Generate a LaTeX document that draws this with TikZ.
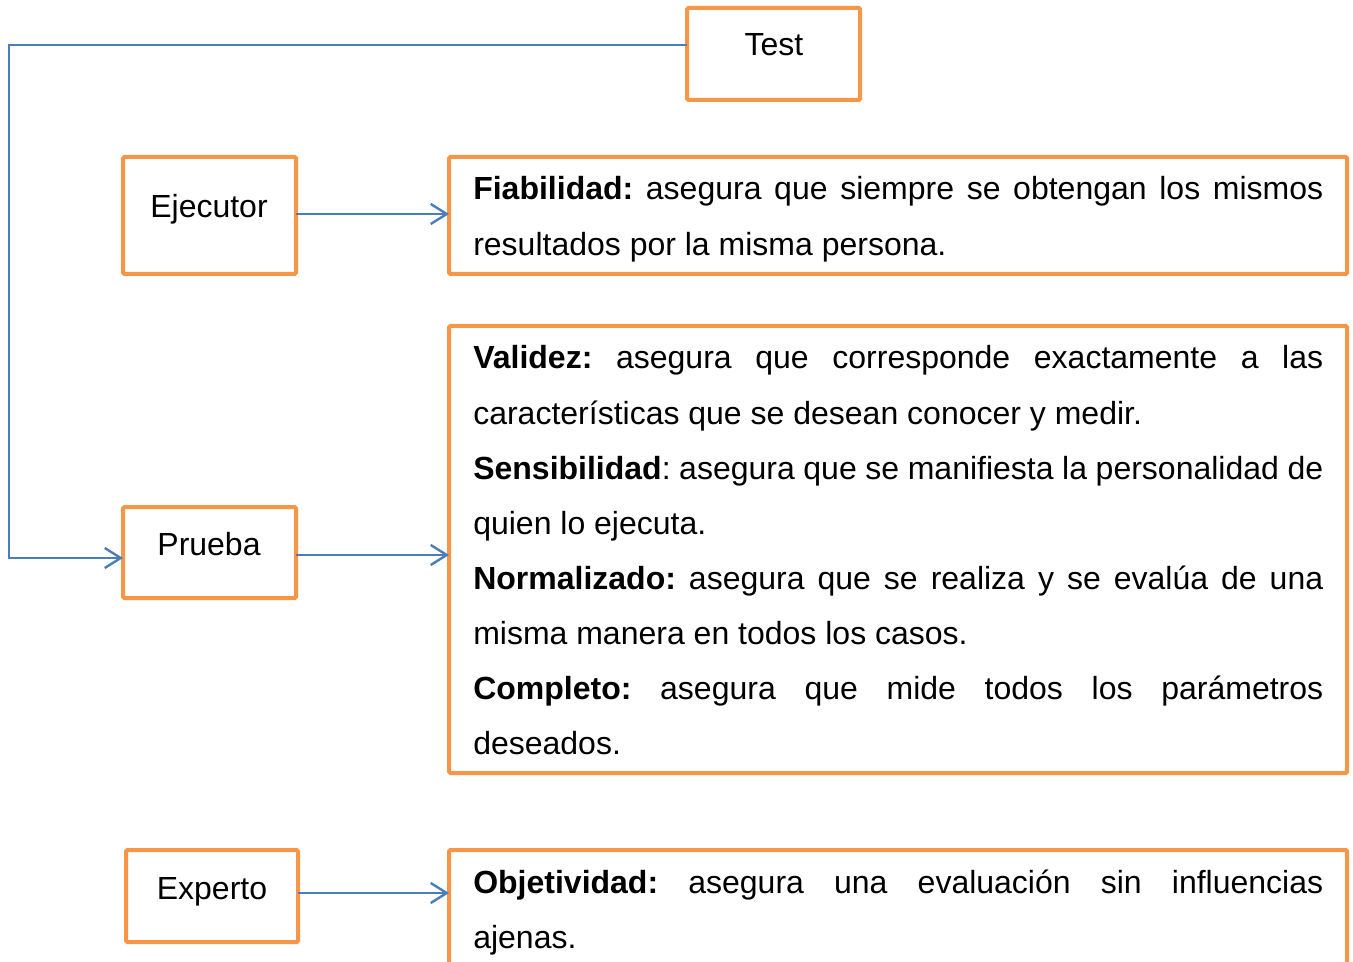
\documentclass[tikz,border=0pt]{standalone}
\usepackage{fontspec}
\setmainfont{Liberation Sans}
\usetikzlibrary{arrows.meta}
\definecolor{boxorange}{HTML}{F79646}
\definecolor{lineblue}{HTML}{4A7EBB}
\hyphenpenalty=10000
\exhyphenpenalty=10000
\frenchspacing
\begin{document}
\begin{tikzpicture}[x=0.75pt,y=-0.75pt,
  box/.style={draw=boxorange,line width=3pt,rounded corners=1pt,inner sep=0pt,outer sep=0pt,anchor=north west},
  lbl/.style={font=\fontsize{24pt}{28pt}\selectfont,inner sep=0pt,anchor=base},
  txt/.style={font=\fontsize{24pt}{41.3pt}\selectfont\frenchspacing,inner sep=0pt,anchor=base west,text width=637.5pt,align=justify},
  conn/.style={draw=lineblue,line width=1.8pt,line join=miter,-{Straight Barb[length=12pt,width=15pt,line width=1.8pt]}}]
\clip (0,0) rectangle (1353,962);
% boxes
\node[box,minimum width={173*0.75pt},minimum height={92*0.75pt}] (test) at (687,8) {};
\node[box,minimum width={173*0.75pt},minimum height={117*0.75pt}] (eje) at (123,157) {};
\node[box,minimum width={898*0.75pt},minimum height={117*0.75pt}] (fia) at (449,157) {};
\node[box,minimum width={173*0.75pt},minimum height={91*0.75pt}] (pru) at (123,507) {};
\node[box,minimum width={898*0.75pt},minimum height={447*0.75pt}] (big) at (449,326) {};
\node[box,minimum width={172*0.75pt},minimum height={92*0.75pt}] (exp) at (126,850) {};
\node[box,minimum width={898*0.75pt},minimum height={140*0.75pt}] (obj) at (449,850) {};
% labels
\node[lbl] (testl) at (774,56) {Test};
\node[lbl] (ejel) at (209,218) {Ejecutor};
\node[lbl] (prul) at (209,555) {Prueba};
\node[lbl] (expl) at (212,899) {Experto};
% texts
\node[txt] (fiat) at (473,200) {\textbf{Fiabilidad:} asegura que siempre se obtengan los mismos\linebreak resultados por la misma persona.};
\node[txt] (bigt) at (473,369) {\textbf{Validez:} asegura que corresponde exactamente a las\linebreak características que se desean conocer y medir.\\
\textbf{Sensibilidad}: asegura que se manifiesta la personalidad de\linebreak quien lo ejecuta.\\
\textbf{Normalizado:} asegura que se realiza y se evalúa de una\linebreak misma manera en todos los casos.\\
\textbf{Completo:} asegura que mide todos los parámetros\linebreak deseados.};
\node[txt] (objt) at (473,893) {\textbf{Objetividad:} asegura una evaluación sin influencias\linebreak ajenas.};
% connectors
\draw[conn] (test.west |- 0,45) -| (9,558) -- (pru.west |- 0,558);
\draw[conn] (eje.east |- 0,214) -- (fia.west |- 0,214);
\draw[conn] (pru.east |- 0,555) -- (big.west |- 0,555);
\draw[conn] (exp.east |- 0,893) -- (obj.west |- 0,893);
\end{tikzpicture}
\end{document}
